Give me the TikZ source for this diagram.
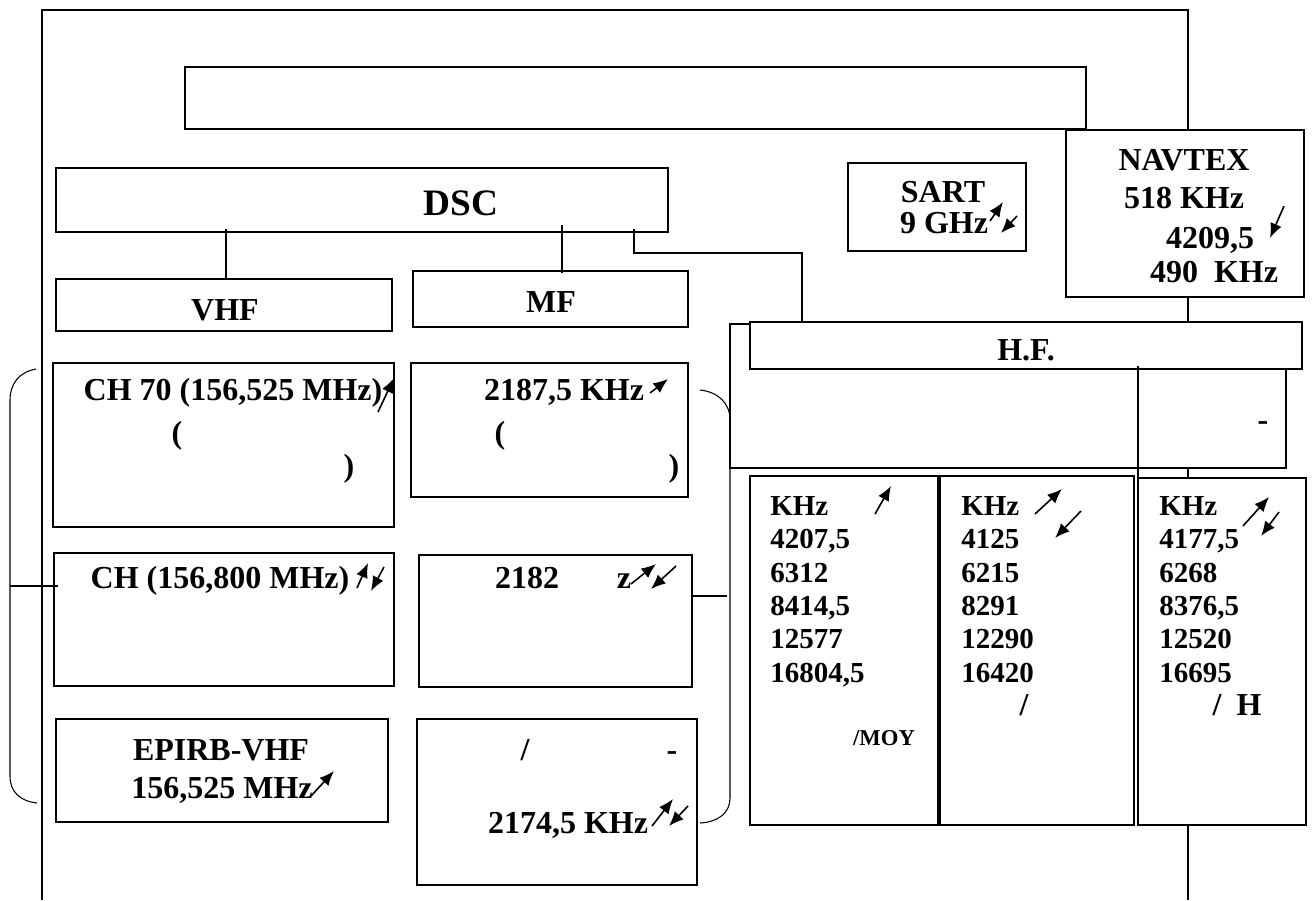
\documentclass[tikz,border=0pt]{standalone}
\usepackage{fontspec}
\setmainfont{Liberation Serif}
\usetikzlibrary{fit,arrows.meta}
\begin{document}
\begin{tikzpicture}[x=0.75pt,y=-0.75pt,
  box/.style={draw, line width=1.4pt, fill=white, inner sep=0pt},
  ln/.style={line width=0.8pt},
  big/.style={font=\bfseries\fontsize{24}{28}\selectfont, inner sep=0pt, anchor=base},
  huge/.style={font=\bfseries\fontsize{28}{32}\selectfont, inner sep=0pt, anchor=base},
  col/.style={font=\bfseries\fontsize{21.75}{25}\selectfont, inner sep=0pt, anchor=base west},
  small/.style={font=\bfseries\fontsize{17}{20}\selectfont, inner sep=0pt, anchor=base},
  arr/.style={line width=1.2pt, -{Latex[length=11pt,width=9pt]}}]
\useasboundingbox (0,0) rectangle (1316,900);
% page frame
\coordinate (fbl) at (42,900);
\coordinate (ftl) at (42,10);
\coordinate (ftr) at (1188,10);
\coordinate (fbr) at (1188,900);
\draw[ln] (fbl) -- (ftl) -- (ftr) -- (fbr);
% boxes
\node[box, fit={(185,67) (1086,129)}] (title) {};
\node[box, fit={(56,168) (668,232)}] (dsc) {};
\node[box, fit={(56,279) (392,331)}] (vhf) {};
\node[box, fit={(413,271) (688,327)}] (mf) {};
\node[box, fit={(848,163) (1026,251)}] (sart) {};
\node[box, fit={(1066,130) (1304,297)}] (navtex) {};
% connectors from DSC
\coordinate (c1) at (226,229);
\coordinate (c2) at (562,225);
\coordinate (c3) at (634,229);
\coordinate (c4) at (634,253);
\coordinate (c5) at (802,253);
\draw[ln] (c1) -- (c1 |- vhf.north);
\draw[ln] (c2) -- ([yshift=-2pt]c2 |- mf.north);
% HF group
\node[box, fit={(730,324) (1286,468)}] (hfsub) {};
\node[box, fit={(750,322) (1302,369)}] (hf) {};
\draw[ln] (c3) -- (c4) -- (c5) -- (c5 |- hf.north);
\node[box, fit={(750,476) (938,825)}] (col1) {};
\node[box, fit={(940,476) (1134,825)}] (col2) {};
\node[box, fit={(1138,478) (1306,825)}] (col3) {};
\coordinate (c6) at (1138,366);
\draw[ln] (c6) -- (c6 |- col3.north);
% VHF / MF sub-boxes
\node[box, fit={(53,363) (394,527)}] (ch70) {};
\node[box, fit={(411,363) (688,497)}] (mf1) {};
\node[box, fit={(54,553) (394,686)}] (ch16) {};
\node[box, fit={(419,555) (692,687)}] (mf2) {};
\node[box, fit={(56,719) (388,822)}] (epirb) {};
\node[box, fit={(417,719) (697,885)}] (mf3) {};
% left bracket
\coordinate (lb1) at (36,369);
\coordinate (lb2) at (10,400);
\coordinate (lb3) at (10,776);
\coordinate (lb4) at (37,803);
\coordinate (lbt) at (10,586);
\draw[ln] (lb1) .. controls (19,372) and (10,384) .. (lb2) -- (lb3) .. controls (10,792) and (20,801) .. (lb4);
\draw[ln] (lbt) -- ([xshift=4pt]lbt -| ch16.west);
% right bracket
\coordinate (rb1) at (700,390);
\coordinate (rb2) at (730,420);
\coordinate (rb3) at (730,798);
\coordinate (rb4) at (700,823);
\coordinate (rbt) at (727,596);
\draw[ln] (rb1) .. controls (718,392) and (730,403) .. (rb2) -- (rb3) .. controls (730,813) and (718,822) .. (rb4);
\draw[ln] (rbt) -- (rbt -| mf2.east);
% texts
\node[huge] (tdsc) at (461,215) {DSC};
\node[big] (tvhf) at (225,320) {VHF};
\node[big] (tmf) at (551,312) {MF};
\node[big] (tsart) at (943,202) {SART};
\node[big] (tsart2) at (944,233) {9 GHz};
\node[big] (tnav1) at (1184,170) {NAVTEX};
\node[big] (tnav2) at (1184,208) {518 KHz};
\node[big] (tnav3) at (1210,248) {4209,5};
\node[big] (tnav4) at (1214,282) {490\ \ KHz};
\node[big] (thf) at (1026,360) {H.F.};
\node[big] (thfd) at (1263,430) {-};
\node[big] (tch70) at (233,400) {CH 70 (156,525 MHz)};
\node[big] (tch70a) at (177,443) {(};
\node[big] (tch70b) at (349,476) {)};
\node[big] (tmf1) at (564,400) {2187,5 KHz};
\node[big] (tmf1a) at (500,443) {(};
\node[big] (tmf1b) at (674,476) {)};
\node[big] (tch16) at (220,588) {CH (156,800 MHz)};
\node[big] (tmf2) at (527,588) {2182};
\node[big] (tmf2z) at (624,588) {z};
\node[big] (tep1) at (221,760) {EPIRB-VHF};
\node[big] (tep2) at (222,798) {156,525 MHz};
\node[big] (tmf3a) at (525,760) {/};
\node[big] (tmf3b) at (672,760) {-};
\node[big] (tmf3c) at (568,833) {2174,5 KHz};
\foreach \t [count=\i] in {KHz,{4207,5},6312,{8414,5},12577,{16804,5}}
  \node[col] (ca\i) at (770,{515.5+33.3*(\i-1)}) {\t};
\foreach \t [count=\i] in {KHz,4125,6215,8291,12290,16420}
  \node[col] (cb\i) at (961,{515.5+33.3*(\i-1)}) {\t};
\foreach \t [count=\i] in {KHz,{4177,5},6268,{8376,5},12520,16695}
  \node[col] (cc\i) at (1159,{515.5+33.3*(\i-1)}) {\t};
\node[small] (tmoy) at (884,745) {/MOY};
\node[big] (tc2s) at (1024,715) {/};
\node[big] (tc3s) at (1217,715) {/};
\node[big] (tc3h) at (1249,715) {H};
% arrows
\draw[arr] (378,412) -- (394,378);
\draw[arr] (650,393) -- (668,379);
\draw[arr] (357,588) -- (368,563);
\draw[arr] (384,567) -- (371,591);
\draw[arr] (631,584) -- (656,564);
\draw[arr] (676,566) -- (651,589);
\draw[arr] (311,796) -- (334,771);
\draw[arr] (652,826) -- (673,799);
\draw[arr] (688,806) -- (669,826);
\draw[arr] (990,221) -- (1003,202);
\draw[arr] (1017,216) -- (1001,233);
\draw[arr] (1284,206) -- (1270,238);
\draw[arr] (875,514) -- (891,486);
\draw[arr] (1035,514) -- (1062,489);
\draw[arr] (1081,511) -- (1055,538);
\draw[arr] (1243,526) -- (1269,497);
\draw[arr] (1279,512) -- (1261,536);
\end{tikzpicture}
\end{document}
